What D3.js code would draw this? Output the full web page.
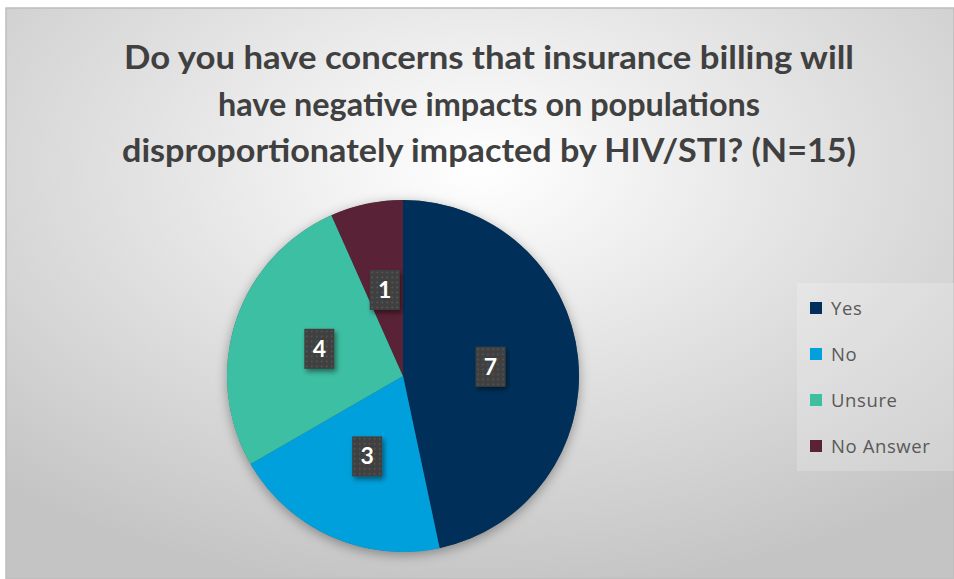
<!DOCTYPE html>
<html>
<head>
<meta charset="utf-8">
<script src="https://cdn.jsdelivr.net/npm/d3@7"></script>
<style>
  body { margin: 0; background: #fff; }
  svg { display: block; }
</style>
</head>
<body>
<div id="chart"></div>
<script>
// data
var categories = ['Yes', 'No', 'Unsure', 'No Answer']
var counts = [7, 3, 4, 1]
var colors = ['#00305a', '#00a0dc', '#3dbfa3', '#5a2236']
var titleLines = [
  'Do you have concerns that insurance billing will',
  'have negative impacts on populations',
  'disproportionately impacted by HIV/STI? (N=15)'
]
var titleWidths = [730, 542, 734]

var W = 954
var H = 579
var FRAME = { x: 6, y: 8 }
var CX = 403
var CY = 376
var R = 176

var svg = d3.select('#chart').append('svg')
  .attr('width', W)
  .attr('height', H)

var defs = svg.append('defs')

var bg = defs.append('radialGradient')
  .attr('id', 'bg')
  .attr('cx', '50%').attr('cy', '28%').attr('r', '75%')
bg.append('stop').attr('offset', '0%').attr('stop-color', '#ffffff')
bg.append('stop').attr('offset', '45%').attr('stop-color', '#e4e4e4')
bg.append('stop').attr('offset', '100%').attr('stop-color', '#c4c4c4')

var shadow = defs.append('filter')
  .attr('id', 'pieShadow')
  .attr('x', '-20%').attr('y', '-20%').attr('width', '140%').attr('height', '140%')
shadow.append('feDropShadow')
  .attr('dx', 0).attr('dy', 3).attr('stdDeviation', 6)
  .attr('flood-color', '#000').attr('flood-opacity', 0.35)

var boxShadow = defs.append('filter')
  .attr('id', 'boxShadow')
  .attr('x', '-50%').attr('y', '-50%').attr('width', '200%').attr('height', '200%')
boxShadow.append('feDropShadow')
  .attr('dx', 2).attr('dy', 3).attr('stdDeviation', 2.5)
  .attr('flood-color', '#000').attr('flood-opacity', 0.45)

var dots = defs.append('pattern')
  .attr('id', 'dots')
  .attr('width', 5).attr('height', 5)
  .attr('patternUnits', 'userSpaceOnUse')
dots.append('rect').attr('width', 5).attr('height', 5).attr('fill', '#3f3f3f')
dots.append('circle').attr('cx', 2.5).attr('cy', 2.5).attr('r', 0.9).attr('fill', '#5a5a5a')

// frame + background
svg.append('rect')
  .attr('x', FRAME.x).attr('y', FRAME.y)
  .attr('width', W - FRAME.x).attr('height', H - FRAME.y)
  .attr('fill', 'url(#bg)')
  .attr('stroke', '#bdbdbd')
  .attr('stroke-width', 1.5)

// legend backdrop
svg.append('rect')
  .attr('x', 797).attr('y', 283)
  .attr('width', 157).attr('height', 188)
  .attr('fill', '#ffffff').attr('fill-opacity', 0.2)

// title
svg.append('g')
  .selectAll('text')
  .data(titleLines)
  .join('text')
  .attr('x', 489)
  .attr('y', function (d, i) { return 69 + i * 46.5 })
  .attr('text-anchor', 'middle')
  .attr('font-family', 'Lato, "Open Sans", sans-serif')
  .attr('font-weight', 'bold')
  .attr('font-size', 32)
  .attr('textLength', function (d, i) { return titleWidths[i] })
  .attr('lengthAdjust', 'spacingAndGlyphs')
  .attr('fill', '#404040')
  .text(function (d) { return d })

// pie
var pie = d3.pie().sort(null).value(function (d) { return d.value })
var arc = d3.arc().innerRadius(0).outerRadius(R)

var slices = pie(categories.map(function (c, i) {
  return { name: c, value: counts[i], color: colors[i] }
}))

var g = svg.append('g').attr('transform', 'translate(' + CX + ',' + CY + ')')

g.append('circle').attr('r', R).attr('fill', '#555').attr('filter', 'url(#pieShadow)')

g.selectAll('path.slice')
  .data(slices)
  .join('path')
  .attr('class', 'slice')
  .attr('d', arc)
  .attr('fill', function (d) { return d.data.color })

var labels = g.selectAll('g.label')
  .data(slices)
  .join('g')
  .attr('class', 'label')
  .attr('transform', function (d) {
    var c = arc.centroid(d)
    return 'translate(' + c[0] + ',' + c[1] + ')'
  })

labels.append('rect')
  .attr('x', -15).attr('y', -20)
  .attr('width', 30).attr('height', 40)
  .attr('fill', 'url(#dots)')
  .attr('filter', 'url(#boxShadow)')

labels.append('text')
  .attr('text-anchor', 'middle')
  .attr('y', 8)
  .attr('font-family', 'Lato, "Open Sans", sans-serif')
  .attr('font-weight', 'bold')
  .attr('font-size', 23)
  .attr('fill', '#ffffff')
  .text(function (d) { return d.data.value })

// legend
var item = svg.append('g').selectAll('g')
  .data(categories)
  .join('g')
  .attr('transform', function (d, i) { return 'translate(810,' + (308 + i * 46) + ')' })

item.append('rect')
  .attr('x', 0).attr('y', -6)
  .attr('width', 12).attr('height', 12)
  .attr('fill', function (d, i) { return colors[i] })

item.append('text')
  .attr('x', 21).attr('y', 7)
  .attr('font-family', '"Open Sans", Lato, sans-serif')
  .attr('font-size', 18.5)
  .attr('letter-spacing', 0.6)
  .attr('fill', '#595959')
  .text(function (d) { return d })
</script>
</body>
</html>
